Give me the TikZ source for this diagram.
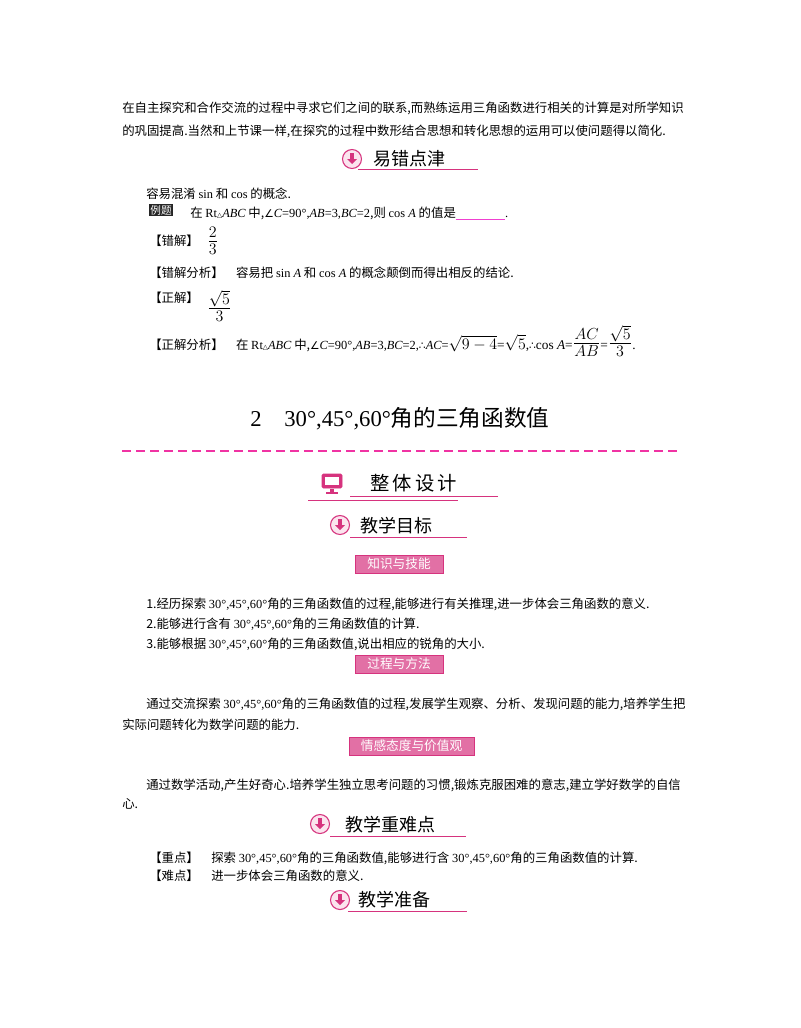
\documentclass[tikz,border=0pt]{standalone}
\usepackage{fontspec}
\setmainfont{Noto Sans CJK SC}
\newfontfamily\tm{Liberation Serif}
\newfontfamily\dv{DejaVu Sans}
\definecolor{mag}{HTML}{D6337E}
\definecolor{lpink}{HTML}{F7C9DE}
\definecolor{blank}{HTML}{F040D0}
\newcommand\tri{{\dv\tiny △}}
\newcommand\ang{{\dv\footnotesize ∠}}
\newcommand\thf{{\dv\footnotesize ∴}}
\begin{document}
\begin{tikzpicture}[x=0.75pt,y=-0.75pt,
  tx/.style={anchor=base west,inner sep=0pt,font=\fontsize{9.3pt}{11pt}\selectfont},
  hd/.style={anchor=base west,inner sep=0pt,font=\fontsize{13.5pt}{15pt}\selectfont},
  tag/.style={draw=mag,fill=mag!70,text=white,inner sep=1.5pt,minimum height=18*0.75pt,font=\fontsize{9.5pt}{11pt}\selectfont}]
\useasboundingbox (0,0) rectangle (800,1028);
\fill[white] (0,0) rectangle (800,1028);
\newcommand\hicon[2]{%
  \draw[mag,fill=lpink!50,line width=0.8pt] (#1,#2) circle (9.5);
  \fill[mag] (#1-2,#2-6) rectangle (#1+2,#2+0);
  \fill[mag] (#1-5,#2) -- (#1+5,#2) -- (#1,#2+5) -- cycle;}
% top paragraph
\node[tx] (p1) at (122,112) {在自主探究和合作交流的过程中寻求它们之间的联系,而熟练运用三角函数进行相关的计算是对所学知识};
\node[tx] (p2) at (122,135) {的巩固提高.当然和上节课一样,在探究的过程中数形结合思想和转化思想的运用可以使问题得以简化.};
% 易错点津
\hicon{352}{159}
\node[hd] (h1) at (373,165) {易错点津};
\draw[mag,line width=0.7pt] (358,169.5) -- (478,169.5);
\node[tx] (a1) at (146,198) {容易混淆 {\tm sin} 和 {\tm cos} 的概念.};
\node[fill=black!85,text=white,inner sep=1pt,font=\fontsize{8pt}{9pt}\selectfont] (ex) at (161,210) {例题};
\node[tx] (a2) at (190,217) {在 {\tm Rt}\tri{\tm\itshape ABC} 中,\ang{\tm\itshape C\upshape =90°,\itshape AB\upshape =3,\itshape BC\upshape =2},则 {\tm cos \itshape A} 的值是{\color{blank}\rule[-2pt]{37pt}{0.6pt}}{\tm .}};
\node[tx] (c1) at (149,245) {【错解】};
\node[anchor=west,inner sep=0pt] (f1) at (207,241) {\LARGE$\frac{2}{3}$};
\node[tx] (c2) at (149,277) {【错解分析】\quad 容易把 {\tm sin \itshape A} 和 {\tm cos \itshape A} 的概念颠倒而得出相反的结论.};
\node[tx] (c3) at (149,302) {【正解】};
\node[anchor=west,inner sep=0pt] (f2) at (207,306) {\LARGE$\frac{\sqrt{5}}{3}$};
\node[tx] (c4) at (149,349) {【正解分析】\quad 在 {\tm Rt}\tri{\tm\itshape ABC} 中,\ang{\tm\itshape C\upshape =90°,\itshape AB\upshape =3,\itshape BC\upshape =2,}\thf{\tm\itshape AC\upshape =}\large$\sqrt{9-4}${\tm\normalsize =}\large$\sqrt5${\tm\normalsize ,}\thf{\tm\normalsize cos \itshape A\upshape =}\LARGE$\frac{AC}{AB}${\tm\normalsize =}\LARGE$\frac{\sqrt5}{3}${\tm\normalsize .}};
% title
\node[anchor=base,inner sep=0pt,font=\fontsize{17pt}{20pt}\selectfont] (t) at (400,426) {{\tm 2\quad 30°,45°,60°}角的三角函数值};
\draw[magenta!80,dash pattern=on 7pt off 3.5pt,line width=0.8pt] (122,451) -- (678,451);
% 整体设计
\draw[mag,fill=mag,rounded corners=1pt] (322,474) rectangle (342,488);
\fill[white] (325,477) rectangle (339,485);
\fill[mag] (330,489) rectangle (334,492);
\fill[mag] (326,492) rectangle (338,494);
\node[hd,font=\fontsize{14.5pt}{16pt}\selectfont] (h2) at (370,490) {整\,体\,设\,计};
\draw[mag,line width=0.7pt] (350,496) -- (498,496);
\draw[mag,line width=0.5pt] (308,500) -- (458,500);
% 教学目标
\hicon{340}{525}
\node[hd] (h3) at (360,532) {教学目标};
\draw[mag,line width=0.7pt] (350,537.5) -- (467,537.5);
\node[tag,minimum width=88*0.75pt] (k1) at (399,564) {知识与技能};
\node[tx] (i1) at (146,608) {1.经历探索 {\tm 30°,45°,60°}角的三角函数值的过程,能够进行有关推理,进一步体会三角函数的意义.};
\node[tx] (i2) at (146,628) {2.能够进行含有 {\tm 30°,45°,60°}角的三角函数值的计算.};
\node[tx] (i3) at (146,648) {3.能够根据 {\tm 30°,45°,60°}角的三角函数值,说出相应的锐角的大小.};
\node[tag,minimum width=88*0.75pt] (k2) at (399,664) {过程与方法};
\node[tx] (j1) at (146,708) {通过交流探索 {\tm 30°,45°,60°}角的三角函数值的过程,发展学生观察、分析、发现问题的能力,培养学生把};
\node[tx] (j2) at (122,729) {实际问题转化为数学问题的能力.};
\node[tag,minimum width=125*0.75pt] (k3) at (411.5,746) {情感态度与价值观};
\node[tx] (m1) at (146,789) {通过数学活动,产生好奇心.培养学生独立思考问题的习惯,锻炼克服困难的意志,建立学好数学的自信};
\node[tx] (m2) at (122,808) {心.};
% 教学重难点
\hicon{320}{824}
\node[hd] (h4) at (345,831) {教学重难点};
\draw[mag,line width=0.7pt] (330,836) -- (466,836);
\node[tx] (z1) at (149,862) {【重点】\quad 探索 {\tm 30°,45°,60°}角的三角函数值,能够进行含 {\tm 30°,45°,60°}角的三角函数值的计算.};
\node[tx] (z2) at (149,880) {【难点】\quad 进一步体会三角函数的意义.};
% 教学准备
\hicon{340}{900}
\node[hd] (h5) at (358,906) {教学准备};
\draw[mag,line width=0.7pt] (348,911.5) -- (467,911.5);
\end{tikzpicture}
\end{document}
